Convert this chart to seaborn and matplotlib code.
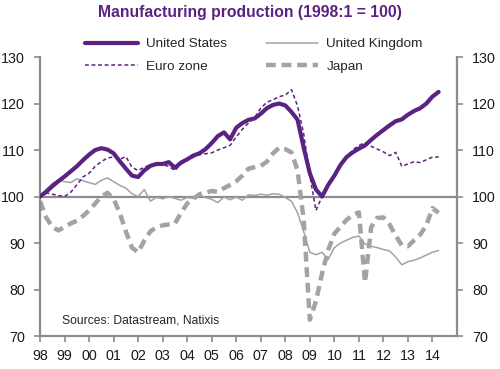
import pandas as pd
import matplotlib.pyplot as plt
import seaborn as sns

# ── Data (quarterly, 1998:1 = 100) ────────────────────────────
dates = pd.date_range("1998-01-01", periods=66, freq="QS")
years = dates.year + (dates.month - 1) / 12

us = [100.0, 101.0, 102.2, 103.3, 104.3, 105.4, 106.5, 107.8,
      109.0, 110.0, 110.4, 110.1, 109.3, 107.6, 106.0, 104.5,
      104.2, 105.6, 106.6, 107.0, 107.0, 107.4, 106.2, 107.3,
      108.0, 108.8, 109.3, 110.2, 111.5, 113.0, 113.8, 112.3,
      114.8, 115.8, 116.5, 116.8, 117.8, 119.0, 119.7, 120.0,
      119.6, 118.2, 116.5, 110.5, 105.0, 101.5, 100.0, 102.5,
      104.5, 106.8, 108.5, 109.5, 110.3, 111.0, 112.2, 113.3,
      114.3, 115.3, 116.2, 116.6, 117.6, 118.4, 119.0, 120.0,
      121.5, 122.5]

euro = [100.0, 100.8, 100.5, 100.2, 100.0, 100.9, 102.5, 104.2,
        105.0, 106.5, 107.5, 108.3, 108.5, 108.0, 108.6, 106.3,
        105.6, 106.3, 106.8, 107.0, 106.8, 106.5, 105.6, 107.0,
        107.8, 108.5, 109.0, 109.2, 109.4, 110.0, 110.5, 111.0,
        112.8, 114.5, 115.8, 117.0, 119.0, 120.3, 120.8, 121.5,
        121.8, 123.0, 119.5, 113.5, 104.5, 97.0, 100.0, 102.5,
        104.3, 106.5, 108.5, 110.0, 111.0, 111.6, 110.8, 110.2,
        109.6, 108.8, 109.5, 106.5, 107.0, 107.5, 107.3, 107.9,
        108.5, 108.5]

uk = [100.0, 101.5, 102.8, 103.5, 103.2, 103.0, 103.8, 103.4,
      103.0, 102.6, 103.5, 104.0, 103.2, 102.4, 101.8, 100.6,
      100.0, 101.5, 99.0, 99.8, 99.5, 100.0, 99.6, 99.2,
      99.8, 99.6, 100.3, 99.8, 99.4, 98.7, 99.9, 99.3,
      99.9, 99.2, 100.4, 100.2, 100.5, 100.3, 100.6, 100.5,
      99.8, 99.0, 96.5, 92.5, 88.0, 87.5, 88.0, 86.5,
      89.0, 90.0, 90.6, 91.2, 91.5, 89.8, 89.3, 89.0,
      88.6, 88.3, 87.0, 85.3, 86.0, 86.3, 86.8, 87.4,
      88.0, 88.4]

japan = [99.0, 95.5, 93.5, 92.7, 93.5, 94.2, 94.8, 95.8,
         97.0, 98.5, 100.0, 100.8, 99.5, 96.5, 92.5, 89.0,
         88.0, 90.5, 92.5, 93.4, 93.8, 94.0, 94.2, 96.5,
         98.5, 99.5, 100.5, 100.8, 101.2, 101.0, 101.8, 102.5,
         103.3, 104.5, 106.0, 106.3, 106.6, 107.5, 109.3, 110.5,
         110.2, 109.5, 105.6, 95.0, 73.5, 77.5, 83.5, 88.5,
         92.0, 93.5, 95.0, 96.0, 96.6, 81.5, 93.4, 95.4,
         95.5, 94.0, 91.6, 89.5, 89.3, 90.6, 91.8, 93.8,
         97.5, 96.5]

tick_years = list(range(1998, 2015))
tick_labels = [str(y)[-2:] for y in tick_years]

df = pd.DataFrame({"year": years, "United States": us, "Euro zone": euro,
                   "United Kingdom": uk, "Japan": japan})

# ── Style ─────────────────────────────────────────────────────
sns.set_theme(style="white")
plt.rcParams['font.family'] = ['Liberation Sans', 'DejaVu Sans']

purple = "#5A2282"
grey = "#A3A3A3"
axis_grey = "#8C8C8C"

fig = plt.figure(figsize=(5, 3.69), dpi=100)
ax = fig.add_axes([0.08, 0.0894, 0.834, 0.756])

ax.axhline(100, color=axis_grey, lw=1.6, zorder=1)

sns.lineplot(data=df, x="year", y="Japan", ax=ax, color=grey, lw=3.2,
             linestyle=(0, (2.2, 1.3)), label="Japan", zorder=2)
sns.lineplot(data=df, x="year", y="United Kingdom", ax=ax, color=grey, lw=1.1,
             label="United Kingdom", zorder=3)
sns.lineplot(data=df, x="year", y="United States", ax=ax, color=purple, lw=3.0,
             label="United States", zorder=4)
sns.lineplot(data=df, x="year", y="Euro zone", ax=ax, color=purple, lw=1.1,
             linestyle=(0, (2.5, 1.8)), label="Euro zone", zorder=5)

ax.set_xlim(1998, 2015)
ax.set_ylim(70, 130)
ax.set_xticks(tick_years)
ax.set_xticklabels(tick_labels)
ax.set_yticks([70, 80, 90, 100, 110, 120, 130])
ax.set_xlabel("")
ax.set_ylabel("")

for side in ["left", "right", "bottom"]:
    ax.spines[side].set_color(axis_grey)
    ax.spines[side].set_linewidth(1.6)
ax.spines["top"].set_visible(False)

ax.tick_params(axis="both", direction="out", length=4, width=1.2, color=axis_grey,
               labelsize=10.3, labelcolor="#1a1a1a")
ax.tick_params(axis="y", left=True, right=True, labelleft=True, labelright=True, pad=7)
ax.tick_params(axis="x", bottom=True, pad=5)

# ── Legend, title, source ─────────────────────────────────────
handles, labels = ax.get_legend_handles_labels()
order = [labels.index(n) for n in ["United States", "Euro zone", "United Kingdom", "Japan"]]
ax.legend([handles[i] for i in order], [labels[i] for i in order], ncol=2,
          loc="upper left", bbox_to_anchor=(0.17, 0.897), bbox_transform=fig.transFigure,
          frameon=False, fontsize=9.7, handlelength=3.9, handletextpad=0.6,
          columnspacing=2.9, labelspacing=0.75, borderpad=0, borderaxespad=0)

fig.text(0.5, 1 - 13 / 369, "Manufacturing production (1998:1 = 100)", ha="center",
         va="center", fontsize=11.3, fontweight="bold", color=purple)
ax.text(0.053, 0.055, "Sources: Datastream, Natixis", transform=ax.transAxes,
        fontsize=8.7, color="#262626", va="center")

fig.savefig("out.png", dpi=100)
